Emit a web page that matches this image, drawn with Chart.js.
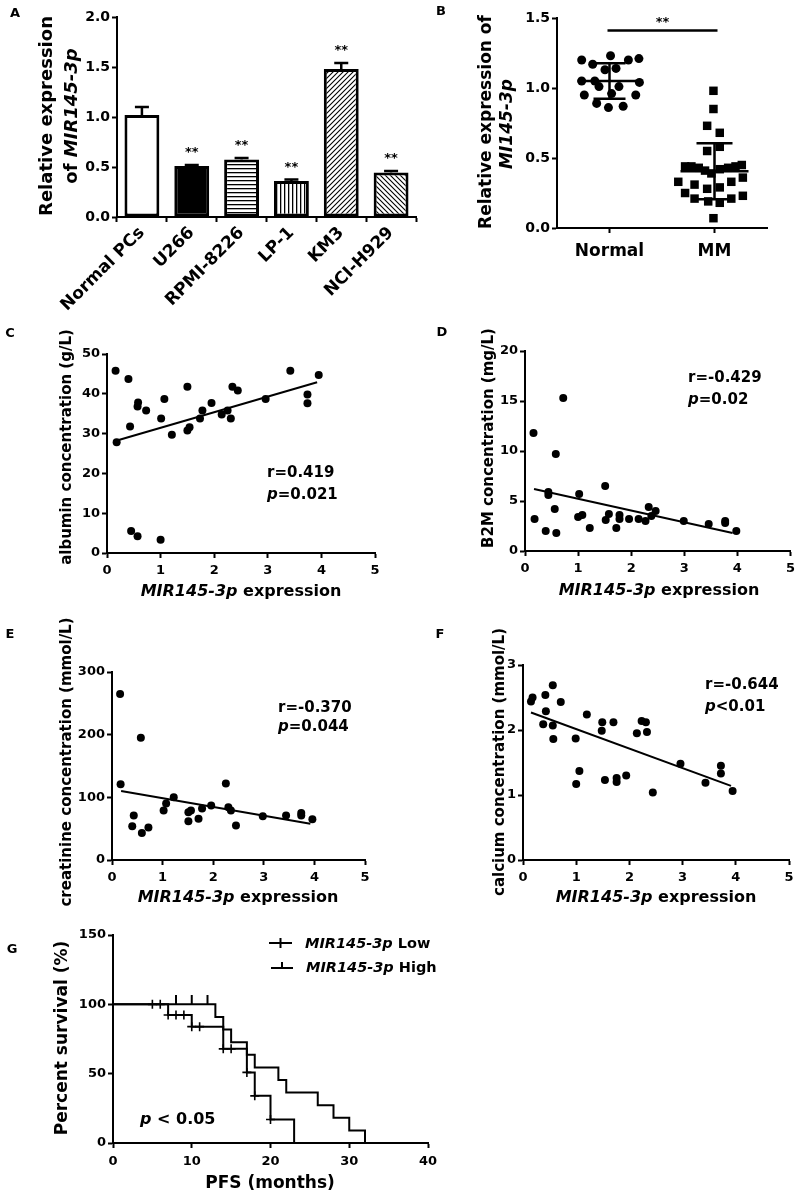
<!DOCTYPE html>
<html><head><meta charset="utf-8">
<script src="https://cdn.jsdelivr.net/npm/chart.js@4.4.0/dist/chart.umd.min.js"></script>
<style>
html,body{margin:0;padding:0;background:#fff;}
#wrap{position:relative;width:800px;height:1203px;overflow:hidden;background:#fff;}
#wrap canvas{position:absolute;left:0;top:0;}
</style></head><body><div id="wrap">
<canvas id="cA" width="800" height="1203"></canvas>
<canvas id="cB" width="800" height="1203"></canvas>
<canvas id="cC" width="800" height="1203"></canvas>
<canvas id="cD" width="800" height="1203"></canvas>
<canvas id="cE" width="800" height="1203"></canvas>
<canvas id="cF" width="800" height="1203"></canvas>
<canvas id="cG" width="800" height="1203"></canvas>
</div>
<script>
// ================= DATA =================
// Panel A
const cellLines = ['Normal PCs','U266','RPMI-8226','LP-1','KM3','NCI-H929'];
const cellMean  = [1.02, 0.51, 0.575, 0.36, 1.48, 0.445];
const cellErr   = [0.08, 0.01, 0.015, 0.015, 0.06, 0.015];
const cellStars = ['', '**', '**', '**', '**', '**'];

// Panel B
const groups = ['Normal','MM'];
const normalPos = [0.235,0.34,0.51,0.68,0.78,0.457,0.562,0.235,0.36,0.785,0.40,0.59,0.26,0.52,0.75,0.378,0.49,0.63];
const normalVal = [1.20,1.17,1.23,1.20,1.21,1.13,1.14,1.05,1.05,1.04,1.01,1.01,0.95,0.96,0.95,0.89,0.86,0.87];
const mmPos = [1.49,1.49,1.43,1.55,1.43,1.55,1.22,1.28,1.35,1.41,1.55,1.63,1.70,1.76,1.47,1.77,1.155,1.31,1.66,1.43,1.55,1.22,1.77,1.31,1.44,1.55,1.66,1.49];
const mmVal = [0.98,0.85,0.73,0.68,0.55,0.58,0.44,0.44,0.43,0.41,0.42,0.43,0.44,0.45,0.39,0.36,0.33,0.31,0.33,0.28,0.29,0.25,0.23,0.21,0.19,0.18,0.21,0.07];
const groupMean = [1.05, 0.405];
const groupSD   = [0.127, 0.20];
const sigLevel  = 1.41;

// Panel C (albumin)
const albX = [0.16,0.40,0.18,0.43,0.58,0.57,0.73,1.01,1.07,1.21,1.50,1.50,1.54,1.735,1.78,1.95,2.14,2.25,2.31,2.34,2.44,2.96,3.42,3.74,3.74,3.95,0.45,0.57,1.00];
const albY = [45.8,43.7,27.8,31.8,37.8,36.8,35.8,33.8,38.7,29.7,41.8,30.8,31.6,33.8,35.8,37.7,34.8,35.8,33.8,41.8,40.8,38.7,45.8,39.8,37.6,44.7,5.5,4.2,3.3];
const albFitX = [0.17, 3.92];
const albFitY = [28.2, 42.9];

// Panel D (B2M)
const b2mX = [0.16,0.72,0.58,0.44,0.44,0.18,0.56,0.39,0.59,1.02,1.00,1.08,1.22,1.51,1.52,1.58,1.72,1.78,1.78,1.96,2.14,2.27,2.33,2.38,2.46,2.99,3.46,3.77,3.77,3.98];
const b2mY = [11.8,15.3,9.7,5.9,5.6,3.2,4.2,2.0,1.8,5.7,3.4,3.6,2.3,6.5,3.1,3.7,2.3,3.6,3.2,3.2,3.2,3.0,4.4,3.5,4.0,3.0,2.7,3.0,2.8,2.0];
const b2mFitX = [0.17, 3.91];
const b2mFitY = [6.2, 1.8];

// Panel E (creatinine)
const creX = [0.16,0.57,0.17,0.43,0.40,0.59,0.72,1.02,1.07,1.22,1.51,1.56,1.51,1.71,1.78,1.96,2.25,2.30,2.35,2.45,2.98,3.44,3.74,3.74,3.96];
const creY = [265,195,121,71,54,43,52,79,90,100,76,79,62,66,82,87,122,84,79,55,70,71,75,71,65];
const creFitX = [0.18, 3.92];
const creFitY = [110, 58];

// Panel F (calcium)
const calX = [0.15,0.18,0.42,0.56,0.71,0.43,0.38,0.56,0.57,0.99,1.06,1.00,1.20,1.49,1.48,1.70,1.54,1.76,1.76,1.94,2.14,2.23,2.31,2.33,2.44,2.96,3.43,3.72,3.72,3.94];
const calY = [2.44,2.50,2.54,2.69,2.43,2.29,2.09,2.07,1.86,1.87,1.37,1.17,2.24,2.12,1.99,2.12,1.23,1.26,1.20,1.30,1.95,2.14,2.12,1.97,1.04,1.48,1.19,1.45,1.33,1.06];
const calFitX = [0.15, 3.91];
const calFitY = [2.27, 1.14];

// Panel G (Kaplan-Meier)
const lowTime  = [0,7,10,14,17,18,20,23];
const lowSurv  = [100,92.3,83.9,67.9,50.9,34.0,17.0,0];
const highTime = [0,13,14,15,17,18,21,22,26,28,30,32];
const highSurv = [100,90.9,81.8,72.7,63.6,54.5,45.5,36.4,27.3,18.2,9.1,0];
const lowCensT = [5,6,7,8,9,10,11,14,15,17,18,20];
const lowCensS = [100,100,92.3,92.3,92.3,83.9,83.9,67.9,67.9,50.9,34.0,17.0];
const highCensT = [8,10,12];
const highCensS = [100,100,100];

// ================= HELPERS =================
const FONT = '"DejaVu Sans", "Liberation Sans", sans-serif';
const INK = '#000';
function fnt(size, italic){ return (italic ? 'italic ' : '') + 'bold ' + size + 'px ' + FONT; }
function segs(str){ const out=[]; str.split('*').forEach((p,i)=>{ if(p) out.push({t:p, i:i%2===1}); }); return out; }
function drawRich(ctx, str, x, y, size, rot, align){
  const s = segs(str);
  ctx.save(); ctx.translate(x,y); if(rot) ctx.rotate(rot);
  let w = 0; s.forEach(q=>{ ctx.font=fnt(size,q.i); q.w=ctx.measureText(q.t).width; w+=q.w; });
  let cx = align==='left' ? 0 : (align==='right' ? -w : -w/2);
  ctx.fillStyle=INK; ctx.textBaseline='middle'; ctx.textAlign='left';
  s.forEach(q=>{ ctx.font=fnt(size,q.i); ctx.fillText(q.t,cx,0); cx+=q.w; });
  ctx.restore();
}
const ROT = -Math.PI/2;
function textPlugin(id, items){
  return { id, afterDraw(chart){ const ctx=chart.ctx; items.forEach(it=>drawRich(ctx,it.s,it.x,it.y,it.size||13,it.rot,it.align)); } };
}
function pad(L,T,R,B,yW,xH){ return {left:L-yW, top:T, right:800-R, bottom:1203-B-xH}; }
function axis(o){
  const a = {
    type: o.type || 'linear',
    offset: !!o.offset,
    grid:{display:true, drawOnChartArea:false, drawTicks:true, tickLength:5, tickWidth:2, tickColor:INK, color:INK},
    border:{display:true, color:INK, width:2},
    ticks:{color:INK, font:{family:FONT, weight:'bold', size:o.fs||13}, padding:(o.pad!==undefined?o.pad:2), autoSkip:false, maxRotation:o.rot||0, minRotation:o.rot||0},
    afterFit: s=>{ if(s.isHorizontal()) s.height=o.size; else s.width=o.size; }
  };
  if(o.min!==undefined) a.min=o.min;
  if(o.max!==undefined) a.max=o.max;
  if(o.step!==undefined) a.ticks.stepSize=o.step;
  if(o.cb) a.ticks.callback=o.cb;
  if(o.abt) a.afterBuildTicks=o.abt;
  return a;
}
function base(padding, scales){
  return {responsive:false, animation:false, devicePixelRatio:1, events:[], layout:{padding},
    plugins:{legend:{display:false}, tooltip:{enabled:false}, title:{display:false}}, scales};
}
function pts(xs, ys){ return xs.map((x,i)=>({x, y:ys[i]})); }
function pattern(kind){
  const c=document.createElement('canvas'); const g=c.getContext('2d');
  const n = kind==='h' ? 4 : (kind==='v' ? 4 : 5);
  c.width=n; c.height=n;
  g.fillStyle='#fff'; g.fillRect(0,0,n,n);
  g.strokeStyle='#000'; g.fillStyle='#000'; g.lineWidth=1.1;
  if(kind==='h'){ g.fillRect(0,0,n,1.3); }
  else if(kind==='v'){ g.fillRect(0,0,1.3,n); }
  else {
    g.beginPath();
    if(kind==='d1'){ // '/'
      g.moveTo(-1,n+1); g.lineTo(n+1,-1);
      g.moveTo(-1,1); g.lineTo(1,-1);
      g.moveTo(n-1,n+1); g.lineTo(n+1,n-1);
    } else { // '\'
      g.moveTo(-1,-1); g.lineTo(n+1,n+1);
      g.moveTo(n-1,-1); g.lineTo(n+1,1);
      g.moveTo(-1,n-1); g.lineTo(1,n+1);
    }
    g.stroke();
  }
  const ctx = document.getElementById('cA').getContext('2d');
  return ctx.createPattern(c,'repeat');
}

// ================= PANEL A =================
new Chart(document.getElementById('cA'), {
  type:'bar',
  data:{labels:cellLines, datasets:[{
    data:cellMean,
    backgroundColor:['#fff','#000',pattern('h'),pattern('v'),pattern('d1'),pattern('d2')],
    borderColor:INK, borderWidth:3, borderSkipped:false,
    barPercentage:0.7, categoryPercentage:1.0
  }]},
  options: base(pad(117,17,416,217,40,110), {
    x: axis({type:'category', offset:true, fs:17, rot:45, pad:1, size:110}),
    y: axis({min:0, max:2, step:0.5, fs:14, cb:v=>v.toFixed(1), size:40})
  }),
  plugins:[{
    id:'errA',
    afterDatasetsDraw(chart){
      const ctx=chart.ctx, xs=chart.scales.x, ys=chart.scales.y;
      ctx.save(); ctx.strokeStyle=INK; ctx.lineWidth=2.5;
      cellMean.forEach((m,i)=>{
        const x=xs.getPixelForValue(i), y0=ys.getPixelForValue(m), y1=ys.getPixelForValue(m+cellErr[i]);
        ctx.beginPath(); ctx.moveTo(x,y0); ctx.lineTo(x,y1); ctx.moveTo(x-7,y1); ctx.lineTo(x+7,y1); ctx.stroke();
        if(cellStars[i]){ ctx.font=fnt(13); ctx.fillStyle=INK; ctx.textAlign='center'; ctx.textBaseline='middle'; ctx.fillText(cellStars[i], x, y1-12); }
      });
      ctx.restore();
    }
  }, textPlugin('txtA',[
    {s:'A', x:15, y:14, size:13},
    {s:'Relative expression', x:47, y:116, size:18, rot:ROT},
    {s:'of *MIR145-3p*', x:72, y:116, size:18, rot:ROT}
  ])]
});

// ================= PANEL B =================
new Chart(document.getElementById('cB'), {
  type:'scatter',
  data:{datasets:[
    {data:pts(normalPos,normalVal), pointStyle:'circle', pointRadius:4.5, backgroundColor:INK, borderWidth:0, clip:false},
    {data:pts(mmPos,mmVal), pointStyle:'rect', pointRadius:6, backgroundColor:INK, borderWidth:0, clip:false}
  ]},
  options: base(pad(557,18,767,228,40,40), {
    x: axis({min:0, max:2, fs:17, pad:8, size:40,
      abt: s=>{ s.ticks = groups.map((g,i)=>({value:i+0.5})); },
      cb:(v,i)=>groups[i]}),
    y: axis({min:0, max:1.5, step:0.5, fs:14, cb:v=>v.toFixed(1), size:40})
  }),
  plugins:[{
    id:'statB',
    afterDatasetsDraw(chart){
      const ctx=chart.ctx, xs=chart.scales.x, ys=chart.scales.y;
      ctx.save(); ctx.strokeStyle=INK; ctx.lineWidth=2.5;
      groupMean.forEach((m,i)=>{
        const cx=xs.getPixelForValue(i+0.5);
        const ym=ys.getPixelForValue(m), yt=ys.getPixelForValue(m+groupSD[i]), yb=ys.getPixelForValue(m-groupSD[i]);
        const hw = i===0 ? 32 : 34, sw = i===0 ? 16 : 18;
        ctx.beginPath();
        ctx.moveTo(cx-hw,ym); ctx.lineTo(cx+hw,ym);
        ctx.moveTo(cx-sw,yt); ctx.lineTo(cx+sw,yt);
        ctx.moveTo(cx-sw,yb); ctx.lineTo(cx+sw,yb);
        ctx.moveTo(cx,yt); ctx.lineTo(cx,yb);
        ctx.stroke();
      });
      const ys2=ys.getPixelForValue(sigLevel), x0=xs.getPixelForValue(0.5)-2, x1=xs.getPixelForValue(1.5)+3;
      ctx.beginPath(); ctx.moveTo(x0,ys2); ctx.lineTo(x1,ys2); ctx.stroke();
      ctx.font=fnt(13); ctx.fillStyle=INK; ctx.textAlign='center'; ctx.textBaseline='middle';
      ctx.fillText('**',(x0+x1)/2, ys2-8);
      ctx.restore();
    }
  }, textPlugin('txtB',[
    {s:'B', x:441, y:12, size:13},
    {s:'Relative expression of', x:487, y:122, size:17, rot:ROT},
    {s:'*MI145-3p*', x:508, y:124, size:17, rot:ROT}
  ])]
});

// ================= SCATTER PANELS C-F =================
function scatterPanel(id, X, Y, FX, FY, area, ymax, ystep, texts){
  new Chart(document.getElementById(id), {
    type:'scatter',
    data:{datasets:[
      {data:pts(X,Y), pointStyle:'circle', pointRadius:4, backgroundColor:INK, borderWidth:0, clip:false},
      {data:pts(FX,FY), showLine:true, pointRadius:0, borderColor:INK, borderWidth:2, fill:false}
    ]},
    options: base(pad(area[0],area[1],area[2],area[3],40,30), {
      x: axis({min:0, max:5, step:1, fs:13, pad:5, size:30}),
      y: axis({min:0, max:ymax, step:ystep, fs:13, pad:2, size:40})
    }),
    plugins:[textPlugin('txt'+id, texts)]
  });
}
scatterPanel('cC', albX, albY, albFitX, albFitY, [107,354,375,553], 50, 10, [
  {s:'C', x:10, y:334, size:13},
  {s:'albumin concentration (g/L)', x:67, y:447, size:15, rot:ROT},
  {s:'*MIR145-3p* expression', x:241, y:592, size:16},
  {s:'r=0.419', x:267, y:473, size:15, align:'left'},
  {s:'*p*=0.021', x:267, y:495, size:15, align:'left'}
]);
scatterPanel('cD', b2mX, b2mY, b2mFitX, b2mFitY, [525,351,791,551], 20, 5, [
  {s:'D', x:442, y:333, size:13},
  {s:'B2M concentration (mg/L)', x:489, y:438, size:15, rot:ROT},
  {s:'*MIR145-3p* expression', x:659, y:591, size:16},
  {s:'r=-0.429', x:688, y:378, size:15, align:'left'},
  {s:'*p*=0.02', x:688, y:400, size:15, align:'left'}
]);
scatterPanel('cE', creX, creY, creFitX, creFitY, [112,672,365,860], 300, 100, [
  {s:'E', x:10, y:635, size:13},
  {s:'creatinine concentration (mmol/L)', x:67, y:762, size:15, rot:ROT},
  {s:'*MIR145-3p* expression', x:238, y:898, size:16},
  {s:'r=-0.370', x:278, y:708, size:15, align:'left'},
  {s:'*p*=0.044', x:278, y:727, size:15, align:'left'}
]);
scatterPanel('cF', calX, calY, calFitX, calFitY, [523,665,789,860], 3, 1, [
  {s:'F', x:440, y:635, size:13},
  {s:'calcium concentration (mmol/L)', x:500, y:762, size:15, rot:ROT},
  {s:'*MIR145-3p* expression', x:656, y:898, size:16},
  {s:'r=-0.644', x:705, y:685, size:15, align:'left'},
  {s:'*p*<0.01', x:705, y:707, size:15, align:'left'}
]);

// ================= PANEL G =================
const upTick = document.createElement('canvas');
upTick.width=4; upTick.height=18;
(function(){ const g=upTick.getContext('2d'); g.fillStyle='#000'; g.fillRect(1,0,2,9); })();

new Chart(document.getElementById('cG'), {
  type:'scatter',
  data:{datasets:[
    {data:pts(lowTime,lowSurv), showLine:true, stepped:'before', pointRadius:0, borderColor:INK, borderWidth:2, fill:false, clip:false},
    {data:pts(highTime,highSurv), showLine:true, stepped:'before', pointRadius:0, borderColor:INK, borderWidth:2, fill:false, clip:false},
    {data:pts(lowCensT,lowCensS), pointStyle:'cross', pointRadius:4.5, borderColor:INK, borderWidth:1.6, clip:false},
    {data:pts(highCensT,highCensS), pointStyle:upTick, pointRadius:5, clip:false}
  ]},
  options: base(pad(113,935,428,1143,40,30), {
    x: axis({min:0, max:40, step:10, fs:13, pad:6, size:30}),
    y: axis({min:0, max:150, step:50, fs:13, pad:2, size:40})
  }),
  plugins:[{
    id:'legG',
    afterDraw(chart){
      const ctx=chart.ctx;
      ctx.save(); ctx.strokeStyle=INK; ctx.lineWidth=2;
      ctx.beginPath();
      ctx.moveTo(269,943); ctx.lineTo(292,943);
      ctx.moveTo(280.5,938); ctx.lineTo(280.5,948);
      ctx.moveTo(271,968); ctx.lineTo(293,968);
      ctx.moveTo(282,962); ctx.lineTo(282,968);
      ctx.stroke(); ctx.restore();
    }
  }, textPlugin('txtG',[
    {s:'G', x:12, y:950, size:13},
    {s:'Percent survival (%)', x:63, y:1038, size:17, rot:ROT},
    {s:'PFS (months)', x:270, y:1184, size:17},
    {s:'*p* < 0.05', x:140, y:1120, size:16, align:'left'},
    {s:'*MIR145-3p* Low', x:305, y:944, size:14.5, align:'left'},
    {s:'*MIR145-3p* High', x:306, y:968, size:14.5, align:'left'}
  ])]
});
</script>
</body></html>
